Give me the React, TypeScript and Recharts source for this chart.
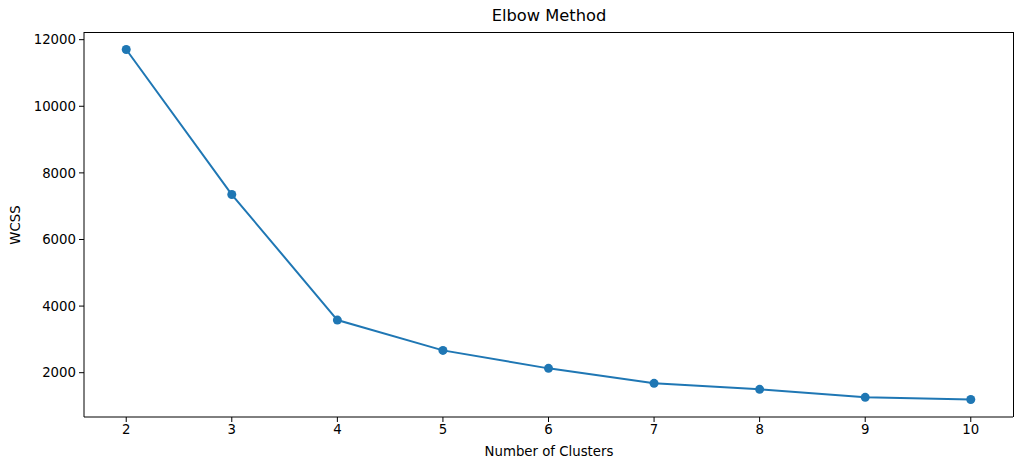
import React from 'react';
import { LineChart, Line, XAxis, YAxis } from 'recharts';

// WCSS
const clusters = [2, 3, 4, 5, 6, 7, 8, 9, 10];
const wcss = [11705, 7350, 3580, 2670, 2130, 1680, 1500, 1260, 1195];
const xTicks = [2, 3, 4, 5, 6, 7, 8, 9, 10];
const yTicks = [2000, 4000, 6000, 8000, 10000, 12000];

const data = clusters.map((k, i) => ({ k, wcss: wcss[i] }));

// matplotlib-style 5% margins around the data
const pad = (lo: number, hi: number) => (hi - lo) * 0.05;
const xLo = clusters[0];
const xHi = clusters[clusters.length - 1];
const xDomain = [xLo - pad(xLo, xHi), xHi + pad(xLo, xHi)];
const yLo = Math.min(...wcss);
const yHi = Math.max(...wcss);
const yDomain = [yLo - pad(yLo, yHi), yHi + pad(yLo, yHi)];

const font = 'DejaVu Sans, sans-serif';
const tickStyle = { fontSize: 13.3, fill: '#000', fontFamily: font };
const black = { stroke: '#000', strokeWidth: 1 };

const ElbowChart = () => {
  return (
    <div style={{ position: 'fixed', left: 0, top: 0, width: 1023, height: 470, background: '#fff', fontFamily: font }}>
      <div style={{ position: 'absolute', left: 84, width: 930, top: 6, textAlign: 'center', fontSize: 16.3, color: '#000' }}>
        Elbow Method
      </div>
      <div style={{ position: 'absolute', left: 84, width: 930, top: 444, textAlign: 'center', fontSize: 13.3, color: '#000' }}>
        Number of Clusters
      </div>
      <div
        style={{
          position: 'absolute',
          left: 15,
          top: 225,
          transform: 'translate(-50%, -50%) rotate(-90deg)',
          fontSize: 13.3,
          color: '#000',
          whiteSpace: 'nowrap',
        }}
      >
        WCSS
      </div>
      <LineChart
        width={1023}
        height={470}
        data={data}
        margin={{ top: 32, right: 10, left: 24, bottom: 23 }}
        style={{ position: 'absolute', left: 0, top: 0 }}
      >
        <XAxis
          dataKey="k"
          type="number"
          domain={xDomain}
          ticks={xTicks}
          allowDataOverflow
          tick={tickStyle}
          tickSize={5}
          tickMargin={3}
          axisLine={black}
          tickLine={black}
          height={30}
        />
        <YAxis
          type="number"
          domain={yDomain}
          ticks={yTicks}
          allowDataOverflow
          tick={tickStyle}
          tickSize={5}
          tickMargin={3}
          axisLine={black}
          tickLine={black}
          width={60}
        />
        <Line
          type="linear"
          dataKey="wcss"
          stroke="#1f77b4"
          strokeWidth={2}
          dot={{ r: 4.5, fill: '#1f77b4', stroke: '#1f77b4', strokeWidth: 0 }}
          activeDot={false}
          isAnimationActive={false}
        />
      </LineChart>
      {/* top and right spines of the axes box */}
      <div
        style={{
          position: 'absolute',
          left: 84,
          top: 31.5,
          width: 929.5,
          height: 385.5,
          boxSizing: 'border-box',
          borderTop: '1px solid #000',
          borderRight: '1px solid #000',
          pointerEvents: 'none',
        }}
      />
    </div>
  );
};

export default function App() {
  return <ElbowChart />;
}
